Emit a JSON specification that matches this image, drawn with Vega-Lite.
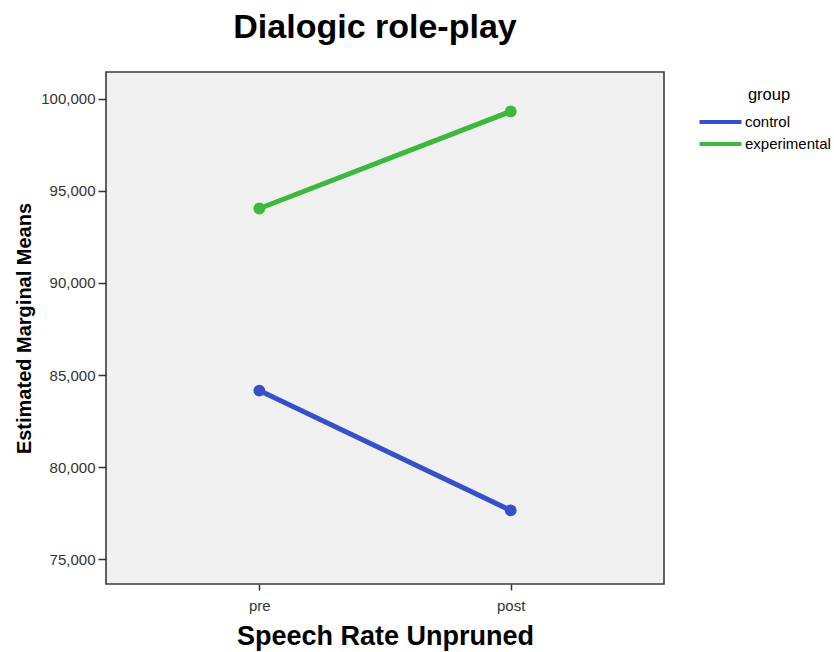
{
  "$schema": "https://vega.github.io/schema/vega-lite/v6.json",
  "width": 558,
  "height": 512,
  "autosize": {"type": "none"},
  "padding": {"left": 106, "top": 72, "right": 170, "bottom": 68},
  "background": "white",
  "title": {
    "text": "Dialogic role-play",
    "font": "Liberation Sans",
    "fontSize": 34,
    "fontWeight": "bold",
    "color": "#000000",
    "anchor": "middle",
    "dx": -10,
    "baseline": "alphabetic",
    "offset": 0
  },
  "config": {
    "view": {"fill": "#f0f0f0", "stroke": "#3a3a3a", "strokeWidth": 1.6},
    "font": "Liberation Sans"
  },
  "data": {
    "values": [
      {"time": "pre", "group": "control", "mean": 84160},
      {"time": "post", "group": "control", "mean": 77660},
      {"time": "pre", "group": "experimental", "mean": 94035},
      {"time": "post", "group": "experimental", "mean": 99300}
    ]
  },
  "encoding": {
    "x": {
      "field": "time",
      "type": "ordinal",
      "sort": ["pre", "post"],
      "scale": {"type": "point", "padding": 0.61},
      "axis": {
        "title": "Speech Rate Unpruned",
        "titleFont": "Liberation Sans",
        "titleFontSize": 27,
        "titleFontWeight": "bold",
        "titleColor": "#000000",
        "titlePadding": 10,
        "labelAngle": 0,
        "labelFontSize": 15,
        "labelColor": "#333333",
        "labelPadding": 8,
        "tickSize": 6,
        "tickColor": "#333333",
        "tickWidth": 1.5,
        "domain": false,
        "grid": false
      }
    },
    "y": {
      "field": "mean",
      "type": "quantitative",
      "scale": {"domain": [73670, 101440], "nice": false, "zero": false},
      "axis": {
        "title": "Estimated Marginal Means",
        "titleFont": "Liberation Sans",
        "titleFontSize": 20,
        "titleFontWeight": "bold",
        "titleColor": "#000000",
        "titlePadding": 6,
        "values": [75000, 80000, 85000, 90000, 95000, 100000],
        "format": ",d",
        "labelFontSize": 15,
        "labelColor": "#333333",
        "labelPadding": 3,
        "tickSize": 8,
        "tickColor": "#333333",
        "tickWidth": 1.5,
        "domain": false,
        "grid": false
      }
    },
    "color": {
      "field": "group",
      "type": "nominal",
      "scale": {"domain": ["control", "experimental"], "range": ["#3550c8", "#3cb93c"]},
      "legend": {
        "title": "group",
        "orient": "none",
        "legendX": 602,
        "legendY": 15,
        "titleFont": "Liberation Sans",
        "titleFontSize": 16.5,
        "titleFontWeight": "normal",
        "titleColor": "#000000",
        "titleAnchor": "middle",
        "titlePadding": 6,
        "labelFont": "Liberation Sans",
        "labelFontSize": 15,
        "labelColor": "#000000",
        "labelOffset": 12,
        "symbolType": "M-2,0H2",
        "symbolStrokeWidth": 4,
        "symbolSize": 441,
        "rowPadding": 1
      }
    }
  },
  "layer": [
    {"mark": {"type": "line", "strokeWidth": 5}},
    {"mark": {"type": "point", "filled": true, "size": 140, "opacity": 1}}
  ]
}
